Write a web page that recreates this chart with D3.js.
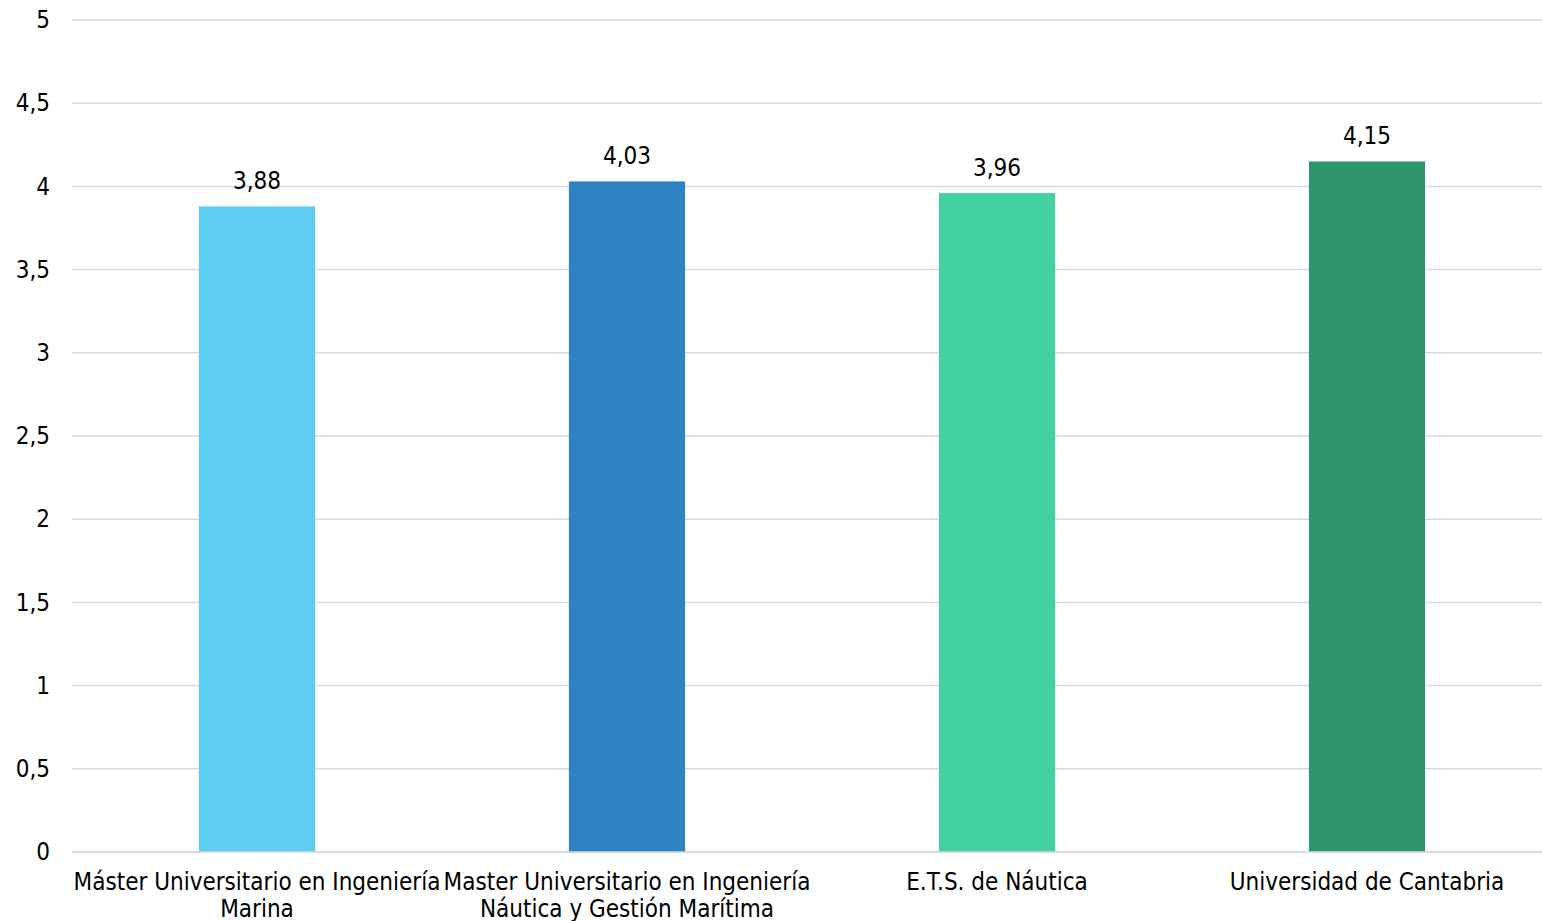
<!DOCTYPE html>
<html><head><meta charset="utf-8">
<script src="https://cdn.jsdelivr.net/npm/d3@7"></script>
<style>html,body{margin:0;padding:0;background:#fff;}svg{display:block;}</style>
</head><body>
<svg id="chart" width="1542" height="921"></svg>
<script>
const categories = [
  ["Máster Universitario en Ingeniería", "Marina"],
  ["Master Universitario en Ingeniería", "Náutica y Gestión Marítima"],
  ["E.T.S. de Náutica"],
  ["Universidad de Cantabria"]
];
const values = [3.88, 4.03, 3.96, 4.15];
const colors = ["#5ECCEF", "#2E84C3", "#43D0A2", "#2E956E"];
const yTicks = [0, 0.5, 1, 1.5, 2, 2.5, 3, 3.5, 4, 4.5, 5];

const svg = d3.select("#chart");
const font = "'DejaVu Sans Condensed', 'DejaVu Sans', sans-serif";
const fs = 24;
const W = 1542, H = 921;
const m = {left: 72, top: 20, bottom: 69};
const x = d3.scaleBand().domain(d3.range(values.length)).range([m.left, 1552]).paddingInner(0.686).paddingOuter(0.343);
const y = d3.scaleLinear().domain([0, 5]).range([H - m.bottom, m.top]);

svg.append("g").selectAll("line").data(yTicks).join("line")
  .attr("x1", m.left).attr("x2", W)
  .attr("y1", d => y(d)).attr("y2", d => y(d))
  .attr("stroke", "#d9d9d9").attr("stroke-width", 1.5);

const yAxis = d3.axisLeft(y).tickValues(yTicks).tickSize(0).tickPadding(0)
  .tickFormat(d => String(d).replace(".", ","));
const ya = svg.append("g").attr("transform", `translate(50,0)`).call(yAxis);
ya.select(".domain").remove();
ya.selectAll("text").attr("font-family", font).attr("font-size", fs).attr("fill", "#000").attr("dy", "0.32em");

svg.append("g").selectAll("rect").data(values).join("rect")
  .attr("x", (d, i) => x(i)).attr("width", x.bandwidth())
  .attr("y", d => y(d)).attr("height", d => y(0) - y(d))
  .attr("fill", (d, i) => colors[i]);

svg.append("line").attr("x1", m.left).attr("x2", W)
  .attr("y1", y(0)).attr("y2", y(0)).attr("stroke", "#d9d9d9").attr("stroke-width", 1.5);

svg.append("g").selectAll("text").data(values).join("text")
  .attr("x", (d, i) => x(i) + x.bandwidth() / 2).attr("y", d => y(d) - 17)
  .attr("text-anchor", "middle").attr("font-family", font).attr("font-size", fs).attr("fill", "#000")
  .text(d => d.toFixed(2).replace(".", ","));

const xl = svg.append("g").selectAll("text").data(categories).join("text")
  .attr("text-anchor", "middle").attr("font-family", font).attr("font-size", fs).attr("fill", "#000")
  .attr("x", (d, i) => x(i) + x.bandwidth() / 2).attr("y", 890);
xl.selectAll("tspan").data(d => d).join("tspan")
  .attr("x", function() { return this.parentNode.getAttribute("x"); })
  .attr("dy", (d, j) => j === 0 ? 0 : 27).text(d => d);
</script>
</body></html>
